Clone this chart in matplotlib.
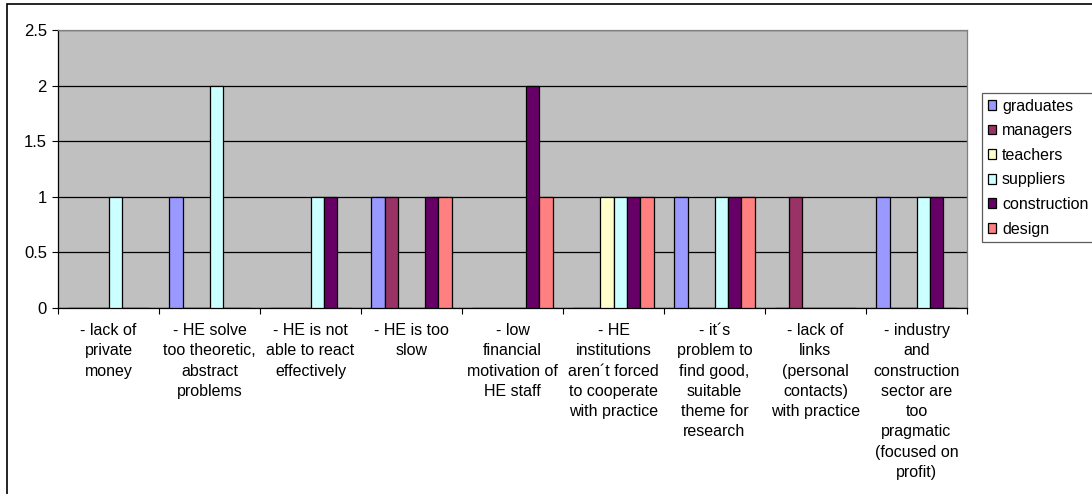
import numpy as np
import matplotlib
matplotlib.use("Agg")
import matplotlib.pyplot as plt
from matplotlib.patches import Rectangle

plt.rcParams['font.family'] = ['Liberation Sans', 'DejaVu Sans']

categories = [
    "- lack of\nprivate\nmoney",
    "- HE solve\ntoo theoretic,\nabstract\nproblems",
    "- HE is not\nable to react\neffectively",
    "- HE is too\nslow",
    "- low\nfinancial\nmotivation of\nHE staff",
    "- HE\ninstitutions\naren\u00b4t forced\nto cooperate\nwith practice",
    "- it\u00b4s\nproblem to\nfind good,\nsuitable\ntheme for\nresearch",
    "- lack of\nlinks\n(personal\ncontacts)\nwith practice",
    "- industry\nand\nconstruction\nsector are\ntoo\npragmatic\n(focused on\nprofit)",
]
series_names = ["graduates", "managers", "teachers", "suppliers", "construction", "design"]
graduates    = [0, 1, 0, 1, 0, 0, 1, 0, 1]
managers     = [0, 0, 0, 1, 0, 0, 0, 1, 0]
teachers     = [0, 0, 0, 0, 0, 1, 0, 0, 0]
suppliers    = [1, 2, 1, 0, 0, 1, 1, 0, 1]
construction = [0, 0, 1, 1, 2, 1, 1, 0, 1]
design       = [0, 0, 0, 1, 1, 1, 1, 0, 0]
yticks = [0, 0.5, 1, 1.5, 2, 2.5]
ytick_labels = ["0", "0.5", "1", "1.5", "2", "2.5"]

colors = ["#9999FF", "#993366", "#FFFFCC", "#CCFFFF", "#660066", "#FF8080"]
values = [graduates, managers, teachers, suppliers, construction, design]

fs = 11.5

fig = plt.figure(figsize=(10.92, 4.94), dpi=100)
ax = fig.add_axes([58/1092, 1 - 307.7/494, (967 - 58)/1092, (307.7 - 30)/494])
ax.set_facecolor("#C0C0C0")

x = np.arange(len(categories))
w = 1 / 7.5
for i, (name, vals, c) in enumerate(zip(series_names, values, colors)):
    ax.bar(x - 3*w + (i + 0.5)*w, vals, w, color=c, edgecolor="black",
           linewidth=0.9, label=name, zorder=3)

ax.set_xlim(-0.5, len(categories) - 0.5)
ax.set_ylim(0, 2.5)
ax.set_yticks(yticks)
ax.set_yticklabels(ytick_labels, fontsize=12)
ax.yaxis.grid(True, color="black", linewidth=0.9, zorder=1)
ax.set_axisbelow(True)

# category ticks sit on the group boundaries, labels in the middle
ax.set_xticks(np.arange(len(categories) + 1) - 0.5)
ax.set_xticklabels([])
ax.set_xticks(x, minor=True)
ax.set_xticklabels(categories, minor=True, fontsize=fs, linespacing=1.44, va="top")
ax.tick_params(axis="x", which="minor", length=0, pad=11)
ax.tick_params(axis="x", which="major", length=4, width=0.8, direction="out")
ax.tick_params(axis="y", length=4, width=0.8, direction="out", pad=4)

for side in ["top", "right"]:
    ax.spines[side].set_color("#808080")
ax.spines["left"].set_color("black")
ax.spines["bottom"].set_color("black")
for s in ax.spines.values():
    s.set_linewidth(0.9)

leg = ax.legend(loc="upper left", bbox_to_anchor=(982/1092, 1 - 93/494),
                bbox_transform=fig.transFigure, fontsize=fs, frameon=True,
                fancybox=False, edgecolor="#333333", handlelength=0.55,
                handleheight=0.55, handletextpad=0.35, labelspacing=0.6,
                borderpad=0.35, borderaxespad=0)
leg.get_frame().set_linewidth(0.9)

# outer chart border
fig.patches.append(Rectangle((7/1092, -0.1), 1.2, 1.1 - 4/494,
                             transform=fig.transFigure, fill=False,
                             edgecolor="black", linewidth=1.2))

fig.savefig("out.png", dpi=100)
